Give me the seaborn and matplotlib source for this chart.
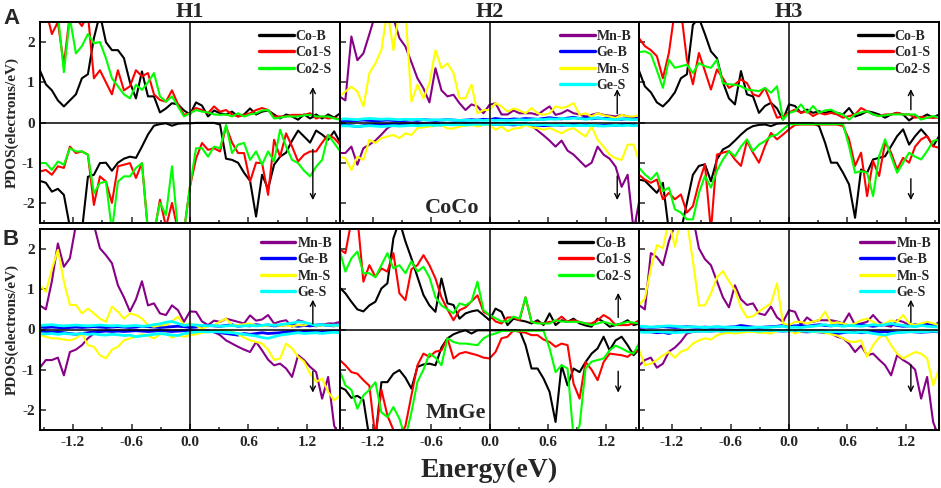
import numpy as np
import matplotlib
matplotlib.use('Agg')
import matplotlib.pyplot as plt
import seaborn as sns

sns.set_style('ticks')
plt.rcParams['font.family'] = ['Liberation Serif', 'DejaVu Serif']
plt.rcParams['font.weight'] = 'bold'

# energy grid (eV), 51 points across the window
energy = np.linspace(-1.54, 1.54, 51)

# ---------------- panel A / H1 (CoCo) ----------------
co_b_up_a1 = [1.30, 0.95, 0.80, 0.55, 0.40, 0.55, 0.70, 1.10, 1.20, 2.10,
              2.70, 2.00, 1.80, 1.80, 1.60, 1.00, 0.60, 1.27, 0.65, 0.65,
              0.25, 0.35, 0.48, 0.45, 0.30, 0.20, 0.50, 0.42, 0.15, 0.30,
              0.23, 0.20, 0.27, 0.15, 0.20, 0.35, 0.20, 0.27, 0.30, 0.20,
              0.10, 0.20, 0.15, 0.07, 0.20, 0.10, 0.20, 0.10, 0.20, 0.12,
              0.23]
co1_s_up_a1 = [2.80, 2.80, 2.20, 2.50, 1.43, 2.70, 2.60, 2.40, 2.70, 1.10,
               1.30, 1.00, 0.70, 1.30, 0.80, 0.90, 1.30, 1.15, 1.23, 0.70,
               0.56, 0.52, 0.80, 0.45, 0.19, 0.23, 0.36, 0.31, 0.23, 0.40,
               0.27, 0.31, 0.20, 0.15, 0.19, 0.23, 0.31, 0.36, 0.31, 0.15,
               0.15, 0.15, 0.19, 0.19, 0.19, 0.23, 0.10, 0.15, 0.10, 0.12,
               0.08]
co2_s_up_a1 = [2.70, 2.70, 2.60, 2.70, 1.25, 2.60, 1.72, 1.90, 2.20, 1.97,
               2.00, 1.60, 1.10, 0.90, 0.70, 0.60, 0.94, 0.81, 1.00, 1.23,
               0.65, 0.52, 0.65, 0.40, 0.15, 0.23, 0.31, 0.27, 0.25, 0.20,
               0.19, 0.20, 0.15, 0.23, 0.15, 0.20, 0.23, 0.30, 0.31, 0.10,
               0.12, 0.15, 0.15, 0.15, 0.18, 0.19, 0.15, 0.15, 0.15, 0.10,
               0.07]
co_b_dn_a1 = [-1.45, -1.50, -1.72, -1.65, -1.80, -2.60, -2.70, -2.70, -1.35, -1.30,
              -1.01, -1.00, -1.20, -1.00, -0.90, -0.85, -0.88, -0.60, -0.30, -0.08,
              -0.04, -0.02, -0.08, -0.03, -0.02, -0.02, -0.01, -0.01, -0.01, -0.01,
              -0.05, -0.90, -0.93, -1.00, -1.25, -1.45, -2.34, -1.30, -1.65, -1.05,
              -0.85, -0.75, -0.45, -0.20, -0.35, -0.50, -0.20, -0.30, -0.43, -0.22,
              -0.50]
co1_s_dn_a1 = [-1.22, -1.18, -1.30, -1.09, -1.13, -0.60, -0.76, -0.72, -0.80, -2.05,
               -1.34, -1.47, -2.00, -1.09, -1.05, -1.01, -1.38, -1.01, -2.70, -2.80,
               -1.92, -2.60, -2.00, -2.70, -2.70, -1.59, -0.90, -0.51, -0.68, -0.64,
               -0.72, -0.10, -0.50, -0.76, -0.76, -1.47, -1.00, -1.01, -1.80, -0.43,
               -0.85, -0.27, -0.60, -0.97, -0.80, -0.72, -0.72, -0.50, -0.31, -0.39,
               -0.55]
co2_s_dn_a1 = [-1.01, -1.01, -1.18, -0.97, -1.05, -0.64, -0.72, -0.72, -0.80, -1.76,
               -1.51, -1.47, -2.70, -1.47, -1.34, -1.34, -1.13, -1.01, -2.70, -2.70,
               -2.00, -2.30, -1.09, -2.70, -2.70, -1.59, -0.64, -0.64, -0.85, -0.60,
               -0.64, -0.06, -0.76, -0.55, -0.51, -0.93, -0.72, -1.05, -0.72, -0.97,
               -0.18, -0.60, -0.93, -1.01, -1.20, -1.34, -1.10, -0.93, -0.31, -0.51,
               -0.72]

# ---------------- panel A / H2 (CoCo) ----------------
mn_b_up_a2 = [0.65, 0.55, 2.14, 1.55, 1.72, 2.20, 2.70, 2.80, 2.80, 2.60,
              2.10, 1.89, 1.50, 1.10, 0.85, 0.50, 1.35, 0.80, 0.65, 0.69,
              0.48, 0.31, 0.45, 0.40, 0.23, 0.44, 0.48, 0.20, 0.20, 0.30,
              0.23, 0.23, 0.23, 0.19, 0.30, 0.40, 0.19, 0.23, 0.31, 0.23,
              0.20, 0.15, 0.19, 0.23, 0.19, 0.17, 0.15, 0.19, 0.15, 0.11,
              0.12]
ge_b_up_a2 = [0.04, 0.05, 0.04, 0.05, 0.06, 0.05, 0.04, 0.05, 0.06, 0.05,
              0.04, 0.05, 0.06, 0.05, 0.07, 0.06, 0.05, 0.06, 0.07, 0.06,
              0.05, 0.06, 0.07, 0.06, 0.08, 0.07, 0.10, 0.08, 0.07, 0.09,
              0.08, 0.10, 0.09, 0.08, 0.10, 0.12, 0.10, 0.09, 0.11, 0.13,
              0.10, 0.12, 0.09, 0.11, 0.10, 0.12, 0.09, 0.08, 0.10, 0.09,
              0.10]
mn_s_up_a2 = [0.65, 0.77, 0.89, 0.77, 0.40, 1.23, 1.47, 1.80, 2.80, 1.80,
              2.80, 2.80, 0.52, 0.94, 0.60, 0.98, 1.80, 1.35, 1.47, 1.23,
              0.60, 0.60, 0.94, 0.23, 0.31, 0.31, 0.48, 0.40, 0.27, 0.35,
              0.30, 0.23, 0.36, 0.23, 0.19, 0.23, 0.40, 0.36, 0.40, 0.48,
              0.19, 0.23, 0.15, 0.23, 0.18, 0.15, 0.11, 0.19, 0.15, 0.15,
              0.19]
ge_s_up_a2 = [0.08, 0.09, 0.08, 0.07, 0.09, 0.10, 0.09, 0.08, 0.09, 0.08,
              0.07, 0.08, 0.07, 0.08, 0.07, 0.06, 0.07, 0.06, 0.07, 0.06,
              0.05, 0.06, 0.05, 0.06, 0.05, 0.06, 0.05, 0.06, 0.05, 0.06,
              0.07, 0.06, 0.07, 0.08, 0.07, 0.09, 0.08, 0.10, 0.09, 0.11,
              0.10, 0.08, 0.10, 0.12, 0.09, 0.08, 0.07, 0.09, 0.08, 0.07,
              0.08]
mn_b_dn_a2 = [-0.76, -0.76, -0.60, -1.05, -0.64, -0.55, -0.45, -0.30, -0.14, -0.06,
              -0.03, -0.02, -0.02, -0.02, -0.02, -0.02, -0.02, -0.02, -0.02, -0.02,
              -0.02, -0.02, -0.02, -0.02, -0.02, -0.02, -0.02, -0.02, -0.02, -0.02,
              -0.02, -0.02, -0.08, -0.20, -0.32, -0.45, -0.60, -0.45, -0.70, -0.80,
              -0.95, -1.10, -1.00, -0.60, -0.80, -0.90, -1.10, -1.60, -1.30, -2.70,
              -1.90]
ge_b_dn_a2 = [-0.05, -0.06, -0.08, -0.10, -0.08, -0.06, -0.05, -0.06, -0.05, -0.04,
              -0.05, -0.06, -0.05, -0.04, -0.05, -0.04, -0.05, -0.06, -0.05, -0.04,
              -0.05, -0.04, -0.03, -0.04, -0.03, -0.04, -0.05, -0.04, -0.05, -0.06,
              -0.05, -0.04, -0.06, -0.07, -0.08, -0.07, -0.06, -0.07, -0.06, -0.05,
              -0.06, -0.07, -0.06, -0.08, -0.07, -0.06, -0.07, -0.06, -0.05, -0.06,
              -0.07]
mn_s_dn_a2 = [-0.85, -0.89, -1.18, -0.85, -0.93, -0.43, -0.51, -0.39, -0.35, -0.31,
              -0.39, -0.27, -0.31, -0.14, -0.12, -0.10, -0.08, -0.06, -0.15, -0.15,
              -0.10, -0.08, -0.06, -0.10, -0.06, -0.06, -0.18, -0.10, -0.22, -0.15,
              -0.14, -0.06, -0.12, -0.14, -0.18, -0.14, -0.20, -0.27, -0.18, -0.14,
              -0.25, -0.35, -0.10, -0.43, -0.60, -0.80, -0.89, -0.93, -0.55, -0.55,
              -1.01]
ge_s_dn_a2 = [-0.09, -0.08, -0.09, -0.10, -0.09, -0.08, -0.09, -0.10, -0.09, -0.08,
              -0.09, -0.08, -0.07, -0.08, -0.07, -0.06, -0.07, -0.06, -0.05, -0.06,
              -0.05, -0.06, -0.05, -0.04, -0.05, -0.04, -0.05, -0.04, -0.05, -0.04,
              -0.05, -0.04, -0.05, -0.06, -0.05, -0.06, -0.07, -0.06, -0.07, -0.08,
              -0.07, -0.08, -0.07, -0.08, -0.09, -0.08, -0.07, -0.08, -0.07, -0.08,
              -0.07]

# ---------------- panel A / H3 (CoCo) ----------------
co_b_up_a3 = [1.30, 0.90, 0.75, 0.50, 0.40, 0.55, 0.75, 1.10, 1.20, 2.43,
              2.60, 2.20, 1.77, 1.60, 1.00, 0.60, 0.45, 1.28, 0.70, 0.65,
              0.24, 0.41, 0.49, 0.35, 0.07, 0.45, 0.41, 0.24, 0.32, 0.24,
              0.28, 0.24, 0.28, 0.24, 0.20, 0.36, 0.15, 0.20, 0.28, 0.25,
              0.20, 0.12, 0.20, 0.24, 0.20, 0.05, 0.16, 0.12, 0.20, 0.12,
              0.20]
co1_s_up_a3 = [2.10, 1.90, 1.80, 1.65, 1.10, 1.73, 2.80, 2.80, 1.56, 0.95,
               1.73, 1.28, 0.82, 1.32, 1.10, 0.86, 0.95, 1.07, 0.98, 0.70,
               0.65, 0.86, 0.49, 0.12, 0.15, 0.25, 0.32, 0.24, 0.28, 0.16,
               0.24, 0.20, 0.24, 0.20, 0.12, 0.16, 0.20, 0.36, 0.28, 0.20,
               0.16, 0.20, 0.20, 0.24, 0.20, 0.20, 0.12, 0.14, 0.12, 0.12,
               0.12]
co2_s_up_a3 = [1.75, 1.77, 1.70, 1.30, 0.86, 1.56, 1.36, 1.40, 1.44, 1.23,
               1.48, 1.40, 1.36, 1.56, 0.98, 0.95, 0.94, 0.90, 0.82, 0.80,
               0.78, 0.86, 0.74, 0.90, 0.07, 0.24, 0.28, 0.45, 0.24, 0.41,
               0.24, 0.30, 0.32, 0.24, 0.20, 0.07, 0.20, 0.25, 0.28, 0.20,
               0.16, 0.18, 0.20, 0.20, 0.20, 0.20, 0.20, 0.07, 0.12, 0.16,
               0.12]
co_b_dn_a3 = [-1.42, -1.45, -1.60, -1.75, -1.50, -2.70, -2.70, -2.70, -2.00, -1.30,
              -1.08, -1.04, -1.46, -0.92, -0.67, -0.59, -0.45, -0.30, -0.17, -0.09,
              -0.06, -0.05, -0.09, -0.03, -0.02, -0.02, -0.02, -0.02, -0.02, -0.02,
              -0.09, -0.50, -1.00, -1.00, -1.25, -1.54, -2.37, -1.17, -1.25, -0.92,
              -0.88, -0.84, -0.59, -0.34, -0.17, -0.55, -0.34, -0.17, -0.34, -0.59,
              -0.34]
co1_s_dn_a3 = [-1.30, -1.42, -1.50, -1.42, -1.91, -1.75, -1.91, -1.79, -2.24, -2.08,
               -1.50, -1.04, -2.70, -0.80, -0.75, -0.71, -0.92, -1.08, -0.46, -0.75,
               -1.00, -0.59, -0.26, -0.42, -0.30, -0.17, -0.06, -0.05, -0.05, -0.05,
               -0.05, -0.05, -0.05, -0.05, -0.09, -0.42, -1.08, -0.75, -1.83, -0.96,
               -1.33, -0.50, -0.75, -1.17, -0.88, -1.00, -0.60, -0.42, -0.34, -0.59,
               -0.63]
co2_s_dn_a3 = [-1.12, -1.29, -1.42, -1.25, -1.71, -1.62, -2.16, -2.24, -2.41, -2.41,
               -1.75, -1.33, -1.62, -1.20, -0.92, -0.71, -0.84, -0.60, -0.42, -0.71,
               -0.55, -0.46, -0.34, -0.30, -0.17, -0.05, -0.04, -0.04, -0.04, -0.04,
               -0.04, -0.04, -0.04, -0.04, -0.04, -0.59, -1.25, -1.21, -1.25, -1.83,
               -0.84, -0.42, -0.84, -1.25, -1.00, -0.75, -0.85, -0.92, -0.71, -0.46,
               -0.42]

# ---------------- panel B / H1 (MnGe) ----------------
mn_b_up_b1 = [0.60, 0.50, 1.20, 2.14, 1.56, 1.77, 2.60, 2.80, 2.80, 2.60,
              2.02, 1.85, 1.65, 1.10, 0.80, 0.45, 0.75, 1.20, 0.60, 0.65,
              0.40, 0.36, 0.60, 0.48, 0.19, 0.45, 0.44, 0.20, 0.11, 0.22,
              0.19, 0.27, 0.23, 0.19, 0.15, 0.35, 0.22, 0.25, 0.36, 0.15,
              0.20, 0.23, 0.07, 0.23, 0.19, 0.10, 0.08, 0.11, 0.15, 0.15,
              0.19]
ge_b_up_b1 = [0.06, 0.05, 0.06, 0.05, 0.04, 0.05, 0.06, 0.05, 0.06, 0.07,
              0.06, 0.05, 0.06, 0.07, 0.06, 0.05, 0.06, 0.08, 0.07, 0.06,
              0.05, 0.06, 0.07, 0.08, 0.07, 0.05, 0.06, 0.08, 0.10, 0.09,
              0.08, 0.10, 0.12, 0.08, 0.10, 0.09, 0.12, 0.10, 0.11, 0.09,
              0.10, 0.12, 0.10, 0.08, 0.10, 0.09, 0.11, 0.12, 0.10, 0.09,
              0.12]
mn_s_up_b1 = [1.10, 0.94, 1.50, 1.98, 1.19, 0.61, 0.61, 0.40, 0.52, 0.40,
              0.27, 0.19, 0.57, 0.44, 0.27, 0.40, 0.36, 0.27, 0.11, 0.07,
              0.10, 0.11, 0.20, 0.32, 0.11, 0.15, 0.10, 0.02, 0.08, 0.10,
              0.20, 0.27, 0.11, 0.11, 0.13, 0.15, 0.10, 0.08, 0.10, 0.12,
              0.09, 0.10, 0.08, 0.11, 0.10, 0.15, 0.09, 0.10, 0.12, 0.09,
              0.10]
ge_s_up_b1 = [0.10, 0.11, 0.12, 0.10, 0.09, 0.10, 0.11, 0.10, 0.09, 0.10,
              0.11, 0.10, 0.09, 0.10, 0.08, 0.09, 0.10, 0.08, 0.09, 0.12,
              0.14, 0.18, 0.20, 0.15, 0.10, 0.12, 0.11, 0.10, 0.09, 0.10,
              0.08, 0.09, 0.10, 0.08, 0.09, 0.10, 0.09, 0.10, 0.12, 0.10,
              0.12, 0.14, 0.16, 0.19, 0.18, 0.14, 0.10, 0.12, 0.10, 0.11,
              0.10]
mn_b_dn_b1 = [-0.95, -0.76, -0.76, -0.70, -1.14, -0.56, -0.50, -0.39, -0.22, -0.10,
              -0.06, -0.03, -0.03, -0.03, -0.03, -0.03, -0.03, -0.03, -0.03, -0.03,
              -0.03, -0.03, -0.03, -0.03, -0.03, -0.03, -0.03, -0.03, -0.03, -0.06,
              -0.14, -0.27, -0.35, -0.43, -0.50, -0.56, -0.31, -0.52, -0.75, -0.89,
              -0.85, -0.97, -1.18, -0.64, -0.76, -0.93, -1.06, -1.72, -1.18, -2.39,
              -2.70]
ge_b_dn_b1 = [-0.05, -0.06, -0.07, -0.06, -0.08, -0.10, -0.12, -0.10, -0.08, -0.06,
              -0.05, -0.04, -0.05, -0.04, -0.05, -0.04, -0.03, -0.04, -0.05, -0.04,
              -0.03, -0.04, -0.05, -0.04, -0.03, -0.03, -0.04, -0.05, -0.04, -0.06,
              -0.08, -0.10, -0.12, -0.14, -0.10, -0.12, -0.10, -0.08, -0.10, -0.09,
              -0.08, -0.06, -0.05, -0.06, -0.05, -0.04, -0.05, -0.06, -0.05, -0.04,
              -0.05]
mn_s_dn_b1 = [-0.14, -0.18, -0.22, -0.22, -0.25, -0.27, -0.22, -0.10, -0.39, -0.43,
              -0.64, -0.72, -0.50, -0.43, -0.27, -0.22, -0.18, -0.12, -0.15, -0.22,
              -0.12, -0.10, -0.20, -0.14, -0.18, -0.14, -0.12, -0.08, -0.06, -0.03,
              -0.02, -0.01, -0.05, -0.12, -0.20, -0.27, -0.31, -0.35, -0.50, -0.76,
              -0.72, -0.35, -0.47, -0.68, -0.80, -1.10, -1.30, -1.22, -1.55, -1.76,
              -1.64]
ge_s_dn_b1 = [-0.10, -0.11, -0.10, -0.12, -0.10, -0.11, -0.12, -0.10, -0.12, -0.11,
              -0.13, -0.14, -0.12, -0.13, -0.15, -0.14, -0.18, -0.16, -0.14, -0.12,
              -0.10, -0.12, -0.14, -0.15, -0.10, -0.08, -0.06, -0.05, -0.06, -0.05,
              -0.06, -0.07, -0.08, -0.10, -0.12, -0.14, -0.16, -0.20, -0.22, -0.18,
              -0.14, -0.12, -0.10, -0.08, -0.10, -0.09, -0.08, -0.10, -0.08, -0.07,
              -0.08]

# ---------------- panel B / H2 (MnGe) ----------------
co_b_up_b2 = [1.05, 0.90, 0.69, 0.50, 0.45, 0.60, 0.69, 1.02, 1.15, 2.27,
              2.70, 2.19, 1.77, 1.31, 0.86, 0.60, 0.44, 1.27, 0.65, 0.61,
              0.27, 0.40, 0.45, 0.48, 0.36, 0.23, 0.52, 0.44, 0.11, 0.27,
              0.23, 0.20, 0.15, 0.23, 0.11, 0.40, 0.11, 0.23, 0.19, 0.27,
              0.15, 0.10, 0.07, 0.27, 0.19, 0.07, 0.11, 0.15, 0.23, 0.11,
              0.15]
co1_s_up_b2 = [2.00, 1.90, 2.70, 2.80, 1.19, 1.60, 1.31, 1.52, 1.44, 1.90,
               0.90, 0.73, 1.50, 1.60, 1.85, 1.60, 1.27, 0.80, 0.50, 0.23,
               0.48, 0.55, 0.70, 0.85, 0.44, 0.36, 0.20, 0.15, 0.30, 0.30,
               0.23, 0.80, 0.19, 0.17, 0.15, 0.19, 0.20, 0.32, 0.19, 0.23,
               0.19, 0.15, 0.15, 0.23, 0.36, 0.27, 0.11, 0.11, 0.11, 0.15,
               0.23]
co2_s_up_b2 = [2.00, 1.44, 1.77, 1.94, 1.40, 1.40, 1.30, 1.60, 1.90, 1.52,
               1.60, 1.40, 1.70, 1.44, 1.56, 1.30, 0.80, 0.60, 0.50, 0.40,
               0.65, 0.60, 0.70, 1.19, 0.48, 0.36, 0.28, 0.20, 0.20, 0.32,
               0.27, 0.80, 0.19, 0.15, 0.15, 0.15, 0.23, 0.20, 0.19, 0.19,
               0.19, 0.15, 0.11, 0.15, 0.19, 0.15, 0.11, 0.15, 0.19, 0.17,
               0.15]
co_b_dn_b2 = [-1.43, -1.50, -1.70, -1.65, -1.75, -2.70, -2.70, -1.31, -1.31, -1.10,
              -1.01, -1.20, -1.47, -0.93, -0.87, -0.85, -0.89, -0.45, -0.22, -0.12,
              -0.06, -0.02, -0.10, -0.02, -0.02, -0.02, -0.02, -0.02, -0.02, -0.02,
              -0.02, -0.39, -0.97, -0.97, -1.22, -1.55, -2.30, -0.89, -1.39, -0.97,
              -1.06, -0.81, -0.60, -0.47, -0.18, -0.52, -0.27, -0.18, -0.39, -0.64,
              -0.47]
co1_s_dn_b2 = [-0.75, -0.89, -1.06, -1.10, -1.26, -1.40, -2.70, -1.50, -2.14, -2.50,
               -2.70, -2.40, -1.64, -0.89, -0.60, -0.68, -0.55, -0.52, -0.22, -0.72,
               -0.60, -0.56, -0.60, -0.64, -0.70, -0.72, -0.56, -0.22, -0.18, -0.02,
               -0.06, -0.08, -0.14, -0.14, -0.25, -0.31, -0.43, -0.35, -0.39, -1.35,
               -1.72, -0.81, -1.00, -1.26, -0.81, -0.60, -0.62, -0.64, -0.68, -0.56,
               -0.52]
co2_s_dn_b2 = [-1.00, -1.39, -1.50, -1.97, -1.64, -1.50, -1.31, -2.06, -2.18, -1.93,
               -2.22, -2.70, -2.06, -1.30, -1.00, -0.60, -0.70, -0.89, -0.22, -0.31,
               -0.35, -0.35, -0.37, -0.39, -0.22, -0.14, -0.10, -0.04, -0.03, -0.03,
               -0.03, -0.03, -0.03, -0.03, -0.03, -0.47, -1.06, -0.89, -0.97, -2.70,
               -2.39, -0.97, -0.80, -0.76, -0.72, -0.52, -0.40, -0.47, -0.55, -0.60,
               -0.31]

# ---------------- panel B / H3 (MnGe) ----------------
mn_b_up_b3 = [0.61, 0.50, 1.90, 1.80, 1.60, 2.20, 2.60, 2.80, 2.80, 2.80,
              2.02, 1.75, 1.60, 1.20, 0.80, 0.55, 1.10, 0.75, 0.61, 0.65,
              0.40, 0.36, 0.57, 0.30, 0.19, 0.48, 0.44, 0.11, 0.30, 0.19,
              0.23, 0.23, 0.23, 0.20, 0.15, 0.40, 0.11, 0.15, 0.19, 0.36,
              0.19, 0.10, 0.07, 0.23, 0.19, 0.11, 0.07, 0.11, 0.19, 0.07,
              0.19]
ge_b_up_b3 = [0.05, 0.06, 0.05, 0.06, 0.07, 0.06, 0.05, 0.06, 0.07, 0.06,
              0.05, 0.06, 0.05, 0.06, 0.05, 0.06, 0.07, 0.10, 0.08, 0.06,
              0.05, 0.06, 0.07, 0.08, 0.10, 0.08, 0.09, 0.10, 0.08, 0.10,
              0.12, 0.10, 0.09, 0.11, 0.12, 0.10, 0.11, 0.12, 0.10, 0.08,
              0.10, 0.12, 0.13, 0.10, 0.08, 0.09, 0.12, 0.10, 0.13, 0.12,
              0.14]
mn_s_up_b3 = [0.61, 0.77, 1.52, 2.10, 2.02, 2.70, 2.06, 2.80, 2.70, 1.70,
              0.60, 0.60, 0.90, 1.30, 1.45, 1.20, 0.98, 0.55, 0.30, 0.33,
              0.45, 0.55, 0.65, 1.15, 0.15, 0.11, 0.19, 0.19, 0.15, 0.20,
              0.23, 0.44, 0.15, 0.18, 0.15, 0.11, 0.15, 0.23, 0.27, 0.19,
              0.11, 0.15, 0.23, 0.19, 0.36, 0.15, 0.11, 0.15, 0.19, 0.15,
              0.11]
ge_s_up_b3 = [0.08, 0.07, 0.06, 0.07, 0.08, 0.09, 0.08, 0.07, 0.06, 0.07,
              0.06, 0.05, 0.06, 0.07, 0.06, 0.05, 0.06, 0.05, 0.04, 0.05,
              0.06, 0.05, 0.06, 0.07, 0.08, 0.05, 0.06, 0.05, 0.07, 0.08,
              0.10, 0.12, 0.09, 0.10, 0.08, 0.10, 0.09, 0.08, 0.10, 0.12,
              0.10, 0.12, 0.15, 0.12, 0.10, 0.08, 0.07, 0.10, 0.08, 0.07,
              0.06]
mn_b_dn_b3 = [-0.90, -0.76, -0.70, -0.95, -0.85, -0.55, -0.45, -0.30, -0.10, -0.06,
              -0.03, -0.03, -0.03, -0.03, -0.03, -0.03, -0.03, -0.03, -0.03, -0.03,
              -0.03, -0.03, -0.03, -0.03, -0.03, -0.03, -0.03, -0.03, -0.03, -0.03,
              -0.03, -0.03, -0.10, -0.18, -0.22, -0.35, -0.56, -0.40, -0.64, -0.60,
              -0.75, -0.89, -1.14, -0.64, -0.76, -0.85, -1.00, -1.72, -1.18, -2.30,
              -2.70]
ge_b_dn_b3 = [-0.04, -0.05, -0.06, -0.08, -0.07, -0.10, -0.06, -0.05, -0.04, -0.03,
              -0.04, -0.03, -0.04, -0.03, -0.04, -0.03, -0.02, -0.03, -0.04, -0.03,
              -0.04, -0.03, -0.02, -0.03, -0.04, -0.03, -0.04, -0.05, -0.06, -0.05,
              -0.06, -0.08, -0.07, -0.10, -0.08, -0.06, -0.07, -0.08, -0.06, -0.05,
              -0.06, -0.05, -0.06, -0.07, -0.06, -0.05, -0.06, -0.07, -0.06, -0.05,
              -0.06]
mn_s_dn_b3 = [-0.50, -0.89, -0.85, -0.76, -0.64, -0.56, -0.70, -0.55, -0.50, -0.35,
              -0.27, -0.22, -0.25, -0.14, -0.10, -0.08, -0.10, -0.08, -0.06, -0.06,
              -0.08, -0.08, -0.10, -0.04, -0.03, -0.02, -0.10, -0.05, -0.04, -0.06,
              -0.06, -0.08, -0.12, -0.15, -0.22, -0.30, -0.31, -0.27, -0.68, -0.39,
              -0.20, -0.14, -0.39, -0.60, -0.72, -0.64, -0.56, -0.60, -0.72, -1.39,
              -0.97]
ge_s_dn_b3 = [-0.06, -0.07, -0.06, -0.05, -0.06, -0.07, -0.08, -0.07, -0.06, -0.05,
              -0.04, -0.05, -0.04, -0.03, -0.04, -0.03, -0.04, -0.03, -0.02, -0.03,
              -0.04, -0.03, -0.02, -0.03, -0.04, -0.03, -0.02, -0.03, -0.04, -0.05,
              -0.04, -0.05, -0.06, -0.05, -0.06, -0.07, -0.08, -0.06, -0.07, -0.10,
              -0.12, -0.14, -0.10, -0.08, -0.07, -0.06, -0.05, -0.06, -0.05, -0.04,
              -0.05]

col_titles = ['H1', 'H2', 'H3']
xtick_vals = [-1.2, -0.6, 0.0, 0.6, 1.2]
xtick_labels = ['-1.2', '-0.6', '0.0', '0.6', '1.2']
ytick_vals = [-2, -1, 0, 1, 2]

BLACK, RED, GREEN = '#000000', '#ff0000', '#00ff00'
PURPLE, BLUE, YELLOW, CYAN = '#870087', '#0000ff', '#ffff00', '#00ffff'

co_set = lambda b_up, s1_up, s2_up, b_dn, s1_dn, s2_dn: [
    ('Co-B', BLACK, 1.5, b_up, b_dn),
    ('Co1-S', RED, 1.5, s1_up, s1_dn),
    ('Co2-S', GREEN, 1.5, s2_up, s2_dn)]
mn_set = lambda mb_up, gb_up, ms_up, gs_up, mb_dn, gb_dn, ms_dn, gs_dn: [
    ('Mn-B', PURPLE, 1.5, mb_up, mb_dn),
    ('Ge-B', BLUE, 2.0, gb_up, gb_dn),
    ('Mn-S', YELLOW, 1.5, ms_up, ms_dn),
    ('Ge-S', CYAN, 2.0, gs_up, gs_dn)]

panels = [
    [co_set(co_b_up_a1, co1_s_up_a1, co2_s_up_a1, co_b_dn_a1, co1_s_dn_a1, co2_s_dn_a1),
     mn_set(mn_b_up_a2, ge_b_up_a2, mn_s_up_a2, ge_s_up_a2, mn_b_dn_a2, ge_b_dn_a2, mn_s_dn_a2, ge_s_dn_a2),
     co_set(co_b_up_a3, co1_s_up_a3, co2_s_up_a3, co_b_dn_a3, co1_s_dn_a3, co2_s_dn_a3)],
    [mn_set(mn_b_up_b1, ge_b_up_b1, mn_s_up_b1, ge_s_up_b1, mn_b_dn_b1, ge_b_dn_b1, mn_s_dn_b1, ge_s_dn_b1),
     co_set(co_b_up_b2, co1_s_up_b2, co2_s_up_b2, co_b_dn_b2, co1_s_dn_b2, co2_s_dn_b2),
     mn_set(mn_b_up_b3, ge_b_up_b3, mn_s_up_b3, ge_s_up_b3, mn_b_dn_b3, ge_b_dn_b3, mn_s_dn_b3, ge_s_dn_b3)],
]

# spin arrows: x, up (from, to), down (from, to)
arrows = [[(1.26, 0.05, 0.95, -0.60, -2.00), (1.31, 0.15, 0.90, -1.26, -2.00), (1.25, 0.25, 0.90, -1.33, -2.00)],
          [(1.26, 0.07, 0.81, -0.97, -1.64), (1.32, 0.23, 0.98, -0.97, -1.64), (1.25, 0.11, 0.81, -0.81, -1.64)]]

W, H = 941, 488
fig = plt.figure(figsize=(W / 100, H / 100), dpi=100)

left0 = 40.25
pw = 299.5
row_px = [(22, 223), (229, 430)]

for r in range(2):
    top_px, bot_px = row_px[r]
    for c in range(3):
        ax = fig.add_axes([(left0 + c * pw) / W, 1 - bot_px / H, pw / W, (bot_px - top_px) / H])
        for name, color, lw, up, dn in panels[r][c]:
            assert len(up) == 51 and len(dn) == 51
            sns.lineplot(x=energy, y=up, color=color, lw=lw, ax=ax, label=name, estimator=None)
            sns.lineplot(x=energy, y=dn, color=color, lw=lw, ax=ax, estimator=None)
        ax.axhline(0, color='black', lw=1.1, zorder=5)
        ax.axvline(0, color='black', lw=1.1, zorder=5)
        ax.set_xlim(-1.536, 1.536)
        ax.set_ylim(-2.5, 2.5)
        ax.set_xticks(xtick_vals)
        ax.set_xticks([-1.5, -0.9, -0.3, 0.3, 0.9, 1.5], minor=True)
        ax.set_yticks(ytick_vals)
        ax.tick_params(direction='in', length=4, width=1.1, labelsize=11, pad=4)
        ax.tick_params(which='minor', direction='in', length=2.5, width=1.1)
        if r == 1:
            ax.set_xticklabels(xtick_labels)
        else:
            ax.set_xticklabels([])
        if c == 0:
            ax.set_yticklabels([str(v) for v in ytick_vals])
            ax.set_ylabel('PDOS(electrons/eV)', fontsize=11, fontweight='bold', labelpad=2)
        else:
            ax.set_yticklabels([])
            ax.set_ylabel('')
        ax.set_xlabel('')
        for sp in ax.spines.values():
            sp.set_linewidth(1.4)
            sp.set_color('black')
        if r == 0:
            ax.set_title(col_titles[c], fontsize=16, fontweight='bold', pad=2)
        leg = ax.legend(loc='upper right', frameon=False, fontsize=10, handlelength=2.5,
                        handletextpad=0.15, labelspacing=0.25, borderaxespad=0.3, borderpad=0.25)
        for ln in leg.get_lines():
            ln.set_linewidth(2.4)
        xa, u0, u1, d0, d1 = arrows[r][c]
        ax.annotate('', xy=(xa, u1), xytext=(xa, u0),
                    arrowprops=dict(arrowstyle='->', lw=1, color='black', mutation_scale=9))
        ax.annotate('', xy=(xa, d1), xytext=(xa, d0),
                    arrowprops=dict(arrowstyle='->', lw=1, color='black', mutation_scale=9))
        if r == 0 and c == 1:
            ax.text(-0.66, -2.24, 'CoCo', fontsize=16, fontweight='bold', va='baseline')
        if r == 1 and c == 1:
            ax.text(-0.66, -2.19, 'MnGe', fontsize=16, fontweight='bold', va='baseline')

fig.text(3 / W, 1 - 24 / H, 'A', fontsize=16, fontweight='bold', family='Liberation Sans', va='baseline')
fig.text(3 / W, 1 - 245 / H, 'B', fontsize=16, fontweight='bold', family='Liberation Sans', va='baseline')
fig.text(489.5 / W, 1 - 470 / H, 'Energy(eV)', fontsize=20, fontweight='bold', ha='center', va='center')

fig.savefig('out.png', dpi=100)
